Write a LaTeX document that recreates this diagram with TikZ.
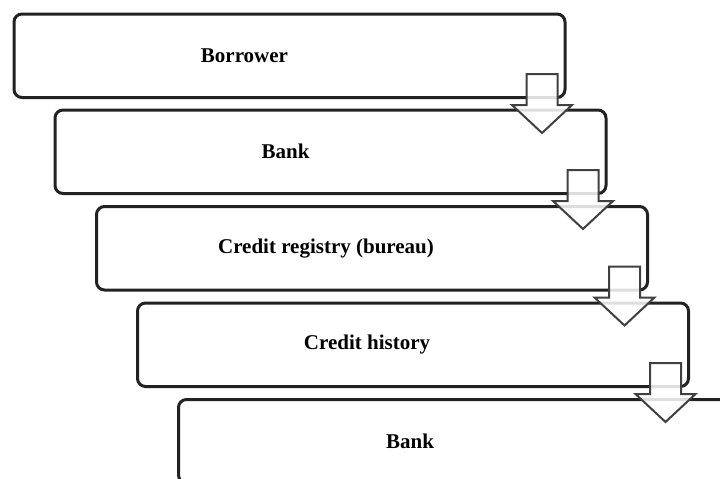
\documentclass[tikz,border=0pt]{standalone}
\usepackage{fontspec}
\setmainfont{Liberation Serif}
\usetikzlibrary{calc,positioning}
\definecolor{boxline}{HTML}{222222}
\definecolor{arrowline}{HTML}{404040}

\begin{document}
\begin{tikzpicture}[x=1pt,y=-1pt,
    stagebox/.style={draw=boxline,line width=3pt,rounded corners=8pt,fill=white,
      minimum width=551pt,minimum height=83.5pt,inner sep=0pt,anchor=north west},
    stagetext/.style={font=\bfseries\fontsize{21}{24}\selectfont,inner sep=0pt},
    downarrow/.style={draw=arrowline,line width=2pt,fill=white,fill opacity=0.85,line join=miter}]
  \clip (0,0) rectangle (720,479);
  \fill[white] (0,0) rectangle (720,479);
  % stages
  \node[stagebox] (borrower) at (12.5,12.5) {};
  \node[stagebox] (bank1) at (53.5,108.5) {};
  \node[stagebox] (registry) at (95,205) {};
  \node[stagebox] (history) at (136,301.5) {};
  \node[stagebox] (bank2) at (177,398) {};
  \node[stagetext] at ([xshift=-45pt]borrower.center) {Borrower};
  \node[stagetext] at ([xshift=-45pt]bank1.center) {Bank};
  \node[stagetext] at ([xshift=-46pt]registry.center) {Credit registry (bureau)};
  \node[stagetext] at ([xshift=-46pt]history.center) {Credit history};
  \node[stagetext] at ([xshift=-44pt]bank2.center) {Bank};
  % arrows between stages
  \foreach \stage in {borrower,bank1,registry,history}
    \draw[downarrow,shift={(\stage.south east)}]
      (-40,-25) -- (-9,-25) -- (-9,6) -- (5.5,6) -- (-24.5,34) -- (-54.5,6) -- (-40,6) -- cycle;
\end{tikzpicture}
\end{document}
